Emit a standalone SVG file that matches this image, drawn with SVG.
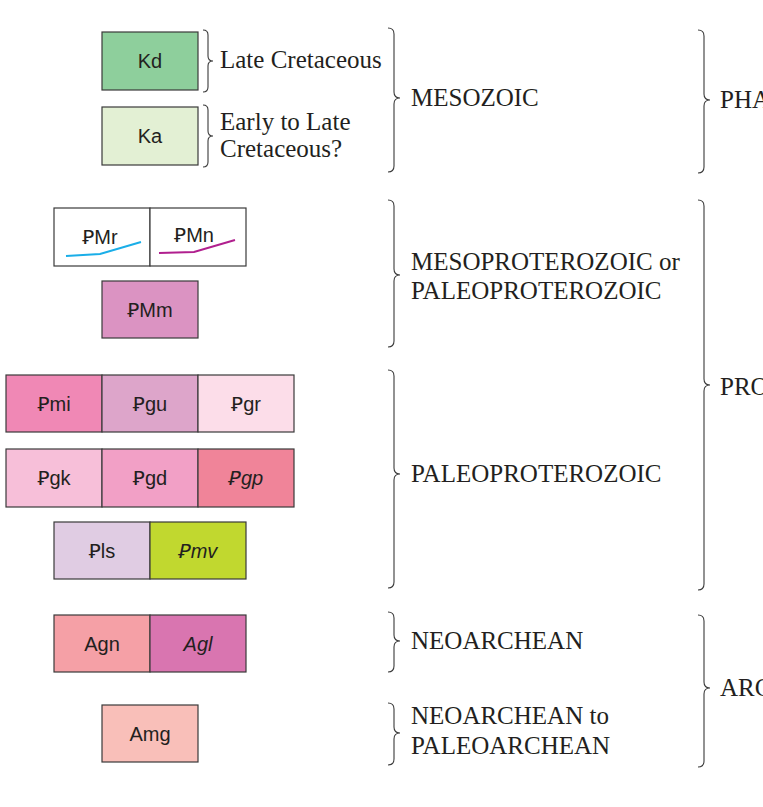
<svg xmlns="http://www.w3.org/2000/svg" width="763" height="807" viewBox="0 0 763 807">
<style>
.b{stroke:#3a3a3a;stroke-width:1.2}
.l{font-family:"Liberation Sans","DejaVu Sans",Arial,sans-serif;font-size:20px;fill:#231f20;text-anchor:middle}
.i{font-style:italic}
.t{font-family:"Liberation Serif","DejaVu Serif","Times New Roman",serif;font-size:25px;fill:#231f20}
.br{fill:none;stroke:#3a3a3a;stroke-width:1.1}
</style>
<rect width="763" height="807" fill="#fff"/>
<g id="Kd"><rect class="b" x="102" y="32" width="96" height="58" fill="#8ecf9c"/><text class="l" x="150" y="68">Kd</text></g>
<g id="Ka"><rect class="b" x="102" y="107" width="96" height="58" fill="#e3f0d4"/><text class="l" x="150" y="143">Ka</text></g>
<g id="PMr"><rect class="b" x="54" y="208" width="96" height="58" fill="#fff"/><text class="l" x="100" y="244">ꝐMr</text><polyline points="66,256 100,254 141,242" fill="none" stroke="#1aaee8" stroke-width="2"/></g>
<g id="PMn"><rect class="b" x="150" y="208" width="96" height="58" fill="#fff"/><text class="l" x="194" y="242">ꝐMn</text><polyline points="159,253 194,252 235,240" fill="none" stroke="#b01f8e" stroke-width="2"/></g>
<g id="PMm"><rect class="b" x="102" y="281" width="96" height="57" fill="#db93c2"/><text class="l" x="150" y="317">ꝐMm</text></g>
<g id="Pmi"><rect class="b" x="6" y="375" width="96" height="57" fill="#f088b5"/><text class="l" x="54" y="411">Ꝑmi</text></g>
<g id="Pgu"><rect class="b" x="102" y="375" width="96" height="57" fill="#dda5ca"/><text class="l" x="150" y="411">Ꝑgu</text></g>
<g id="Pgr"><rect class="b" x="198" y="375" width="96" height="57" fill="#fcdde9"/><text class="l" x="246" y="411">Ꝑgr</text></g>
<g id="Pgk"><rect class="b" x="6" y="449" width="96" height="58" fill="#f7bfd9"/><text class="l" x="54" y="485">Ꝑgk</text></g>
<g id="Pgd"><rect class="b" x="102" y="449" width="96" height="58" fill="#f2a0c6"/><text class="l" x="150" y="485">Ꝑgd</text></g>
<g id="Pgp"><rect class="b" x="198" y="449" width="96" height="58" fill="#f08499"/><text class="l i" x="246" y="485">Ꝑgp</text></g>
<g id="Pls"><rect class="b" x="54" y="522" width="96" height="57" fill="#e0cce3"/><text class="l" x="102" y="558">Ꝑls</text></g>
<g id="Pmv"><rect class="b" x="150" y="522" width="96" height="57" fill="#c1d82f"/><text class="l i" x="198" y="558">Ꝑmv</text></g>
<g id="Agn"><rect class="b" x="54" y="615" width="96" height="57" fill="#f5a0a6"/><text class="l" x="102" y="651">Agn</text></g>
<g id="Agl"><rect class="b" x="150" y="615" width="96" height="57" fill="#d975b0"/><text class="l i" x="198" y="651">Agl</text></g>
<g id="Amg"><rect class="b" x="102" y="705" width="96" height="57" fill="#f9bfb9"/><text class="l" x="150" y="741">Amg</text></g>
<g id="connectors">
<path class="br" d="M203,30 Q208,30 208,35 L208,56 Q208,61 213,61 Q208,61 208,66 L208,87 Q208,92 203,92"/>
<path class="br" d="M203,105 Q208,105 208,110 L208,131 Q208,136 213,136 Q208,136 208,141 L208,162 Q208,167 203,167"/>
<path class="br" d="M388,28 Q394,28 394,34 L394,92 Q394,98 400,98 Q394,98 394,104 L394,166 Q394,172 388,172"/>
<path class="br" d="M388,200 Q394,200 394,206 L394,269 Q394,275 400,275 Q394,275 394,281 L394,341 Q394,347 388,347"/>
<path class="br" d="M388,370 Q394,370 394,376 L394,468 Q394,474 400,474 Q394,474 394,480 L394,582 Q394,588 388,588"/>
<path class="br" d="M388,612 Q394,612 394,618 L394,635 Q394,641 400,641 Q394,641 394,647 L394,666 Q394,672 388,672"/>
<path class="br" d="M388,703 Q394,703 394,709 L394,727 Q394,733 400,733 Q394,733 394,739 L394,759 Q394,765 388,765"/>
<path class="br" d="M698,30 Q704,30 704,36 L704,94 Q704,100 710,100 Q704,100 704,106 L704,167 Q704,173 698,173"/>
<path class="br" d="M698,200 Q704,200 704,206 L704,379 Q704,385 710,385 Q704,385 704,391 L704,584 Q704,590 698,590"/>
<path class="br" d="M698,615 Q704,615 704,621 L704,682 Q704,688 710,688 Q704,688 704,694 L704,761 Q704,767 698,767"/>
</g>
<g id="labels">
<text class="t" x="220" y="68">Late Cretaceous</text>
<text class="t" x="220" y="130">Early to Late</text>
<text class="t" x="220" y="157">Cretaceous?</text>
<text class="t" x="411" y="106">MESOZOIC</text>
<text class="t" x="411" y="270">MESOPROTEROZOIC or</text>
<text class="t" x="411" y="299">PALEOPROTEROZOIC</text>
<text class="t" x="411" y="482">PALEOPROTEROZOIC</text>
<text class="t" x="411" y="649">NEOARCHEAN</text>
<text class="t" x="411" y="724">NEOARCHEAN to</text>
<text class="t" x="411" y="754">PALEOARCHEAN</text>
<text class="t" x="720" y="108">PHANEROZOIC</text>
<text class="t" x="720" y="395">PROTEROZOIC</text>
<text class="t" x="720" y="696">ARCHEAN</text>
</g>
</svg>
